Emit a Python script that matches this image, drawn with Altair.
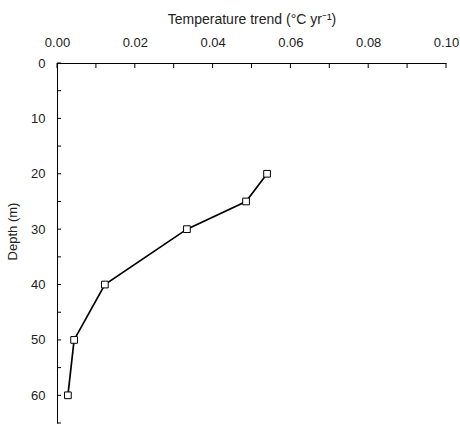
import altair as alt
import pandas as pd

# Temperature trend profile by depth
depth = [20, 25, 30, 40, 50, 60]
trend = [0.054, 0.0486, 0.0334, 0.0123, 0.0044, 0.0028]

x_ticks = [round(i * 0.01, 2) for i in range(11)]
y_ticks = list(range(0, 70, 5))

profile = pd.DataFrame({"depth": depth, "trend": trend})
xt = pd.DataFrame({"v": x_ticks})
yt = pd.DataFrame({"v": y_ticks})

FONT = "Liberation Sans"
TEXT = "#222"

x_scale = alt.Scale(domain=[0, 0.1], nice=False, zero=False)
y_scale = alt.Scale(domain=[0, 65], nice=False, zero=False, reverse=True)

x_axis = alt.Axis(
    orient="top",
    values=x_ticks,
    labelExpr="round(datum.value * 100) % 2 == 0 ? format(datum.value, '.2f') : ''",
    ticks=False,
    grid=False,
    domainColor="black",
    domainWidth=1,
    labelPadding=14,
    labelFont=FONT,
    labelFontSize=13,
    labelColor=TEXT,
    labelFlush=False,
    title="Temperature trend (°C yr⁻¹)",
    titleFont=FONT,
    titleFontSize=14,
    titleFontWeight="normal",
    titleColor=TEXT,
    titlePadding=10,
)
y_axis = alt.Axis(
    orient="left",
    values=y_ticks,
    labelExpr="datum.value % 10 == 0 ? datum.label : ''",
    ticks=False,
    grid=False,
    domainColor="black",
    domainWidth=1,
    labelPadding=12,
    labelFont=FONT,
    labelFontSize=13,
    labelColor=TEXT,
    title="Depth (m)",
    titleFont=FONT,
    titleFontSize=13,
    titleFontWeight="normal",
    titleColor=TEXT,
    titlePadding=11,
    titleY=168,
)

line = alt.Chart(profile).mark_line(color="black", strokeWidth=1.7).encode(
    x=alt.X("trend:Q", scale=x_scale, axis=x_axis),
    y=alt.Y("depth:Q", scale=y_scale, axis=y_axis),
    order="depth:Q",
)
points = alt.Chart(profile).mark_point(
    shape="square", size=45, filled=True, fill="white", stroke="black", strokeWidth=1, opacity=1
).encode(
    x=alt.X("trend:Q", scale=x_scale),
    y=alt.Y("depth:Q", scale=y_scale),
)

# inward-pointing tick marks
x_tick_marks = alt.Chart(xt).mark_rule(color="black", strokeWidth=1).encode(
    x=alt.X("v:Q", scale=x_scale), y=alt.value(0), y2=alt.value(5)
)
y_tick_marks = alt.Chart(yt).mark_rule(color="black", strokeWidth=1).encode(
    y=alt.Y("v:Q", scale=y_scale), x=alt.value(0), x2=alt.value(4)
)

chart = alt.layer(x_tick_marks, y_tick_marks, line, points).properties(
    width=389,
    height=360,
    background="white",
    autosize=alt.AutoSizeParams(type="none"),
    padding={"left": 57, "top": 63, "right": 14, "bottom": 7},
).configure_view(stroke=None, strokeWidth=0).configure_axis(grid=False)

chart.save("out.html", embed_options={"renderer": "svg", "actions": False})
